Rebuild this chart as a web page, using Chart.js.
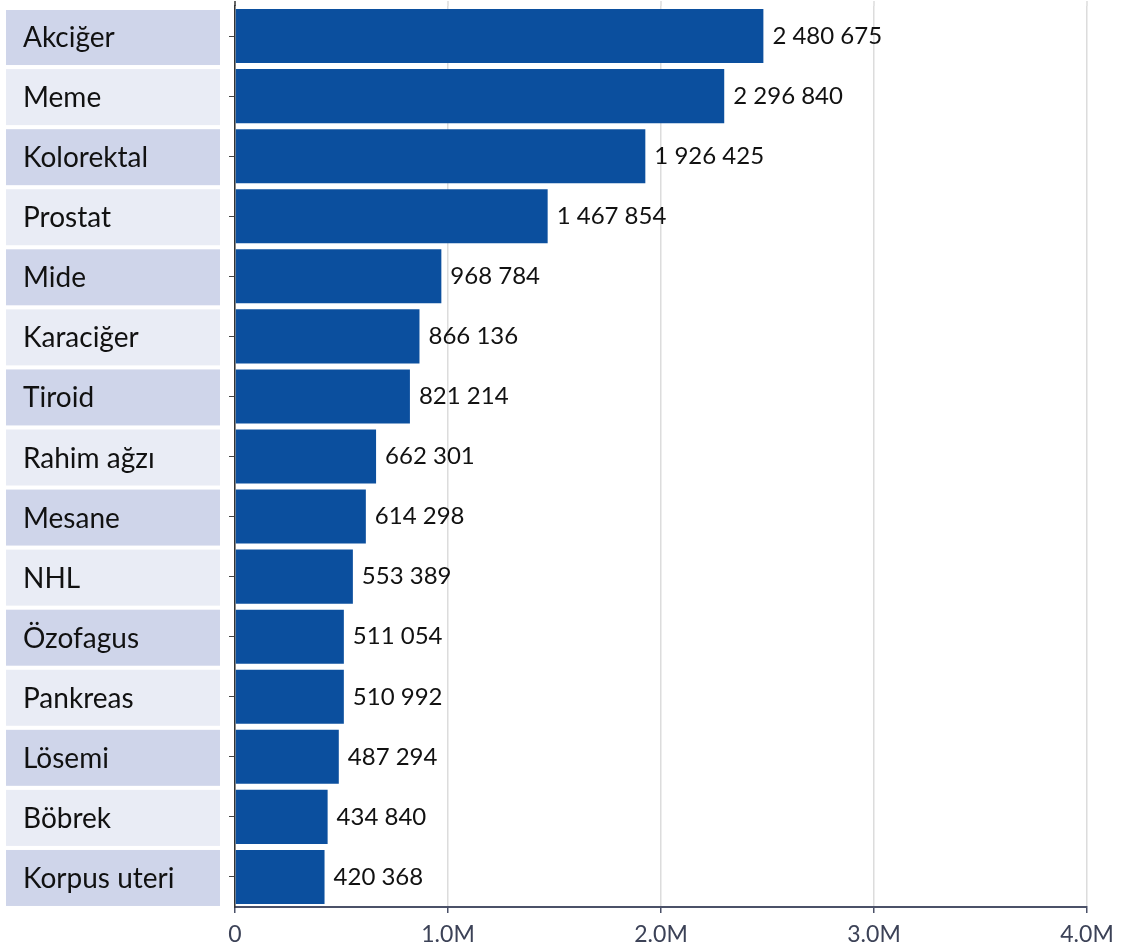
<!DOCTYPE html>
<html lang="tr">
<head>
<meta charset="utf-8">
<title>Kanser türlerine göre yeni vaka sayıları</title>
<script src="https://cdn.jsdelivr.net/npm/chart.js@4/dist/chart.umd.min.js"></script>
<style>
  html, body { margin: 0; padding: 0; background: #ffffff; }
  #wrap { width: 1124px; height: 949px; position: relative; }
</style>
</head>
<body>
<div id="wrap"><canvas id="cancerChart"></canvas></div>
<script>
// Cancer sites and new case counts
const sites = ['Akciğer', 'Meme', 'Kolorektal', 'Prostat', 'Mide', 'Karaciğer', 'Tiroid',
  'Rahim ağzı', 'Mesane', 'NHL', 'Özofagus', 'Pankreas', 'Lösemi', 'Böbrek', 'Korpus uteri'];
const cases = [2480675, 2296840, 1926425, 1467854, 968784, 866136, 821214,
  662301, 614298, 553389, 511054, 510992, 487294, 434840, 420368];
const tickLabels = ['0', '1.0M', '2.0M', '3.0M', '4.0M'];

const BAR_COLOR = '#0b4f9e';
const BOX_DARK = '#cfd5ea';
const BOX_LIGHT = '#e9ecf5';

// 2480675 -> "2 480 675"
function spaced(n) {
  return String(n).replace(/\B(?=(\d{3})+(?!\d))/g, ' ');
}

// shaded boxes holding the category names, left of the y axis
const categoryBoxes = {
  id: 'categoryBoxes',
  beforeDraw(chart) {
    const ctx = chart.ctx;
    const y = chart.scales.y;
    ctx.save();
    ctx.font = '28px Lato';
    ctx.textBaseline = 'middle';
    ctx.textAlign = 'left';
    sites.forEach((name, i) => {
      const cy = y.getPixelForTick(i);
      const top = Math.max(cy - 27, 10);
      ctx.fillStyle = i % 2 === 0 ? BOX_DARK : BOX_LIGHT;
      ctx.fillRect(6, top, 214, cy + 29 - top);
      ctx.fillStyle = '#111111';
      ctx.fillText(name, 23, cy + 2);
    });
    ctx.restore();
  },
  // axis and grid lines run a little above the plot area
  afterDraw(chart) {
    const ctx = chart.ctx;
    const area = chart.chartArea;
    const x = chart.scales.x;
    ctx.save();
    ctx.lineWidth = 1.5;
    ctx.strokeStyle = '#dcdcdc';
    x.ticks.forEach((t, i) => {
      if (i === 0) return;
      const px = x.getPixelForTick(i);
      ctx.beginPath();
      ctx.moveTo(px, 1);
      ctx.lineTo(px, area.top);
      ctx.stroke();
    });
    ctx.strokeStyle = '#333333';
    ctx.beginPath();
    ctx.moveTo(area.left, 1);
    ctx.lineTo(area.left, area.top);
    ctx.stroke();
    ctx.restore();
  }
};

// value printed at the end of every bar
const barValues = {
  id: 'barValues',
  afterDatasetsDraw(chart) {
    const ctx = chart.ctx;
    const meta = chart.getDatasetMeta(0);
    ctx.save();
    ctx.font = '24px Lato';
    ctx.fillStyle = '#111111';
    ctx.textBaseline = 'middle';
    ctx.textAlign = 'left';
    meta.data.forEach((bar, i) => {
      ctx.fillText(spaced(cases[i]), bar.x + 9, bar.y);
    });
    ctx.restore();
  }
};

new Chart(document.getElementById('cancerChart'), {
  type: 'bar',
  data: {
    labels: sites,
    datasets: [{
      data: cases,
      backgroundColor: BAR_COLOR,
      borderWidth: 0,
      barPercentage: 0.9,
      categoryPercentage: 1.0
    }]
  },
  options: {
    indexAxis: 'y',
    responsive: true,
    maintainAspectRatio: false,
    animation: false,
    layout: { padding: { left: 229, top: 6, right: 37, bottom: 0 } },
    plugins: {
      legend: { display: false },
      tooltip: { enabled: false }
    },
    scales: {
      x: {
        min: 0,
        max: 4000000,
        afterFit(scale) { scale.height = 42; },
        ticks: {
          stepSize: 1000000,
          color: '#3c4257',
          font: { family: 'Lato', size: 23 },
          padding: 8,
          callback: (v, i) => tickLabels[i]
        },
        grid: {
          color: '#dcdcdc',
          lineWidth: 1.5,
          tickColor: '#4b5168',
          tickLength: 6
        },
        border: { color: '#4b5168', width: 2 }
      },
      y: {
        ticks: { display: false },
        grid: {
          offset: false,
          drawOnChartArea: false,
          tickColor: '#444444',
          tickLength: 6
        },
        border: { color: '#333333', width: 1.5 }
      }
    }
  },
  plugins: [categoryBoxes, barValues]
});
</script>
</body>
</html>
